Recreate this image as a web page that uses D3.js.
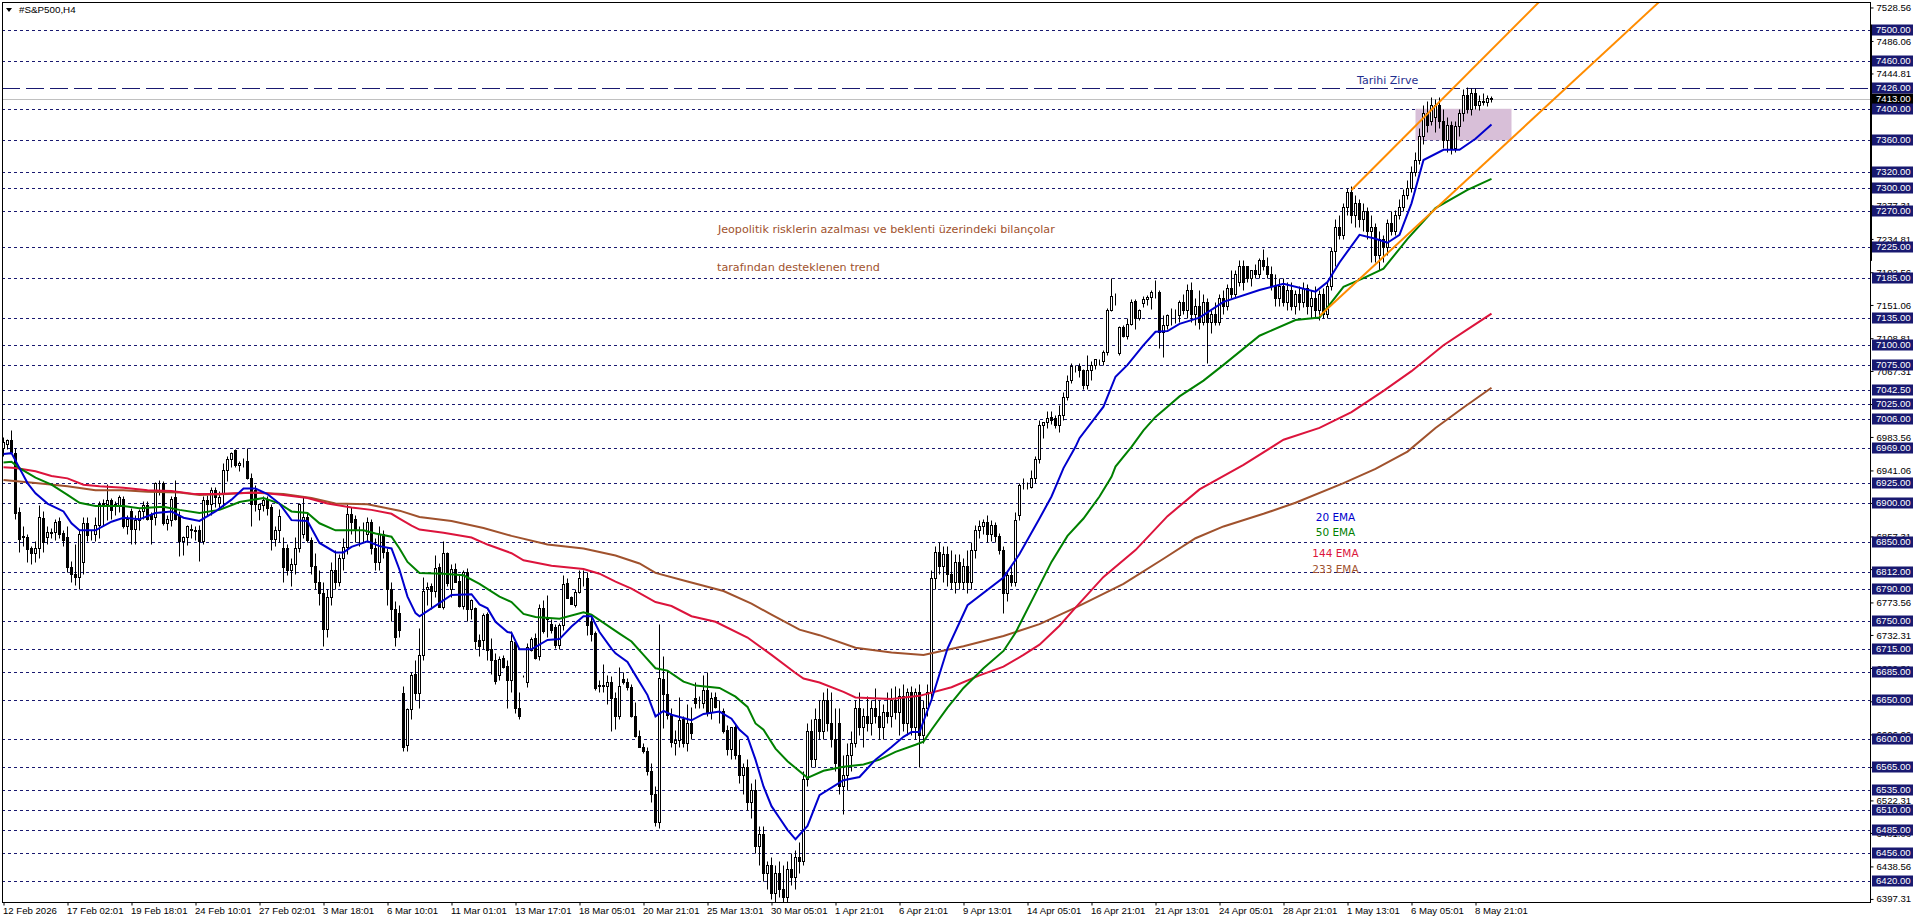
<!DOCTYPE html>
<html>
<head>
<meta charset="utf-8">
<title>#S&amp;P500,H4</title>
<script src="https://cdn.jsdelivr.net/npm/d3@7"></script>
<style>
  html, body { margin: 0; padding: 0; background: #fff; overflow: hidden; }
  svg { display: block; font-family: "Liberation Sans", sans-serif; }
</style>
</head>
<body>
<svg id="chart" width="1916" height="923"></svg>
<script>
const opens = [
6969,6975,6980,6963,6888,6857,6857,6842,6836,6843,
6881,6856,6862,6863,6877,6862,6857,6818,6810,6806,
6825,6874,6860,6860,6872,6899,6899,6903,6898,6897,
6905,6870,6889,6867,6878,6889,6897,6884,6882,6925,
6925,6874,6878,6907,6884,6851,6857,6866,6866,6866,
6851,6904,6899,6916,6900,6912,6942,6955,6967,6948,
6951,6953,6931,6916,6892,6897,6905,6895,6854,6866,
6842,6842,6815,6822,6843,6860,6882,6853,6820,6800,
6785,6740,6780,6815,6800,6830,6844,6886,6879,6865,
6866,6860,6876,6842,6825,6860,6838,6790,6765,6760,
6658,6592,6638,6683,6659,6707,6791,6795,6788,6819,
6768,6836,6791,6816,6801,6769,6812,6765,6766,6726,
6726,6759,6714,6701,6681,6703,6693,6675,6723,6640,
6680,6672,6713,6728,6705,6767,6752,6746,6742,6720,
6745,6798,6780,6770,6787,6804,6805,6749,6735,6668,
6668,6668,6673,6652,6630,6677,6673,6666,6629,6604,
6590,6585,6560,6530,6495,6676,6657,6631,6595,6599,
6626,6595,6621,6652,6648,6646,6663,6635,6653,6637,
6636,6612,6588,6616,6580,6555,6565,6520,6535,6465,
6480,6430,6440,6405,6430,6410,6400,6435,6425,6450,
6445,6550,6610,6575,6625,6610,6650,6620,6600,6620,
6540,6555,6580,6595,6640,6615,6630,6620,6640,6630,
6615,6635,6630,6650,6635,6655,6620,6660,6615,6660,
6605,6640,6660,6805,6838,6820,6835,6810,6800,6825,
6800,6820,6800,6840,6865,6870,6875,6860,6872,6858,
6840,6785,6808,6800,6884,6923,6923,6920,6932,6956,
6999,7002,7009,7007,6999,7011,7034,7056,7074,7074,
7068,7050,7069,7075,7081,7080,7091,7145,7163,7090,
7123,7112,7127,7156,7135,7153,7159,7161,7167,7167,
7117,7126,7138,7138,7138,7155,7145,7170,7140,7150,
7130,7155,7130,7140,7130,7160,7150,7172,7165,7180,
7200,7200,7185,7195,7190,7208,7200,7190,7175,7160,
7175,7155,7170,7150,7165,7155,7172,7150,7160,7145,
7165,7140,7175,7220,7250,7240,7275,7295,7265,7280,
7260,7270,7245,7250,7215,7235,7225,7255,7245,7265,
7275,7290,7300,7320,7335,7365,7395,7385,7390,7405,
7385,7360,7380,7350,7378,7395,7418,7400,7420,7405,
7410,7408,7414];
const highs = [
6984,6981,6992,6970,6895,6870,6860,6845,6852,6897,
6890,6870,6868,6880,6882,6866,6870,6826,6848,6865,
6882,6882,6865,6882,6902,6905,6924,6906,6902,6910,
6908,6885,6893,6885,6892,6902,6902,6888,6927,6929,
6928,6885,6908,6929,6890,6858,6872,6873,6870,6872,
6908,6910,6920,6920,6915,6950,6960,6965,6968,6953,
6957,6969,6938,6922,6900,6908,6909,6899,6870,6892,
6857,6848,6830,6857,6900,6909,6887,6857,6836,6815,
6800,6790,6825,6840,6835,6855,6899,6895,6885,6870,
6875,6882,6880,6855,6870,6865,6842,6800,6775,6770,
6668,6640,6685,6700,6741,6806,6800,6798,6834,6823,
6851,6838,6822,6823,6808,6815,6817,6778,6768,6733,
6760,6762,6728,6710,6705,6707,6700,6737,6726,6660,
6681,6722,6730,6735,6772,6777,6783,6752,6746,6748,
6808,6805,6782,6790,6815,6815,6812,6755,6737,6675,
6695,6681,6680,6660,6692,6685,6678,6670,6647,6612,
6595,6590,6570,6540,6746,6705,6688,6640,6612,6654,
6630,6645,6641,6672,6655,6682,6685,6660,6660,6650,
6640,6618,6616,6620,6600,6570,6575,6545,6550,6490,
6490,6445,6450,6440,6445,6440,6445,6455,6460,6470,
6560,6620,6625,6640,6650,6660,6665,6660,6640,6640,
6580,6595,6610,6650,6660,6640,6655,6650,6665,6650,
6645,6660,6665,6668,6665,6670,6665,6668,6665,6670,
6650,6670,6815,6845,6850,6845,6845,6840,6835,6835,
6830,6840,6850,6872,6878,6880,6885,6878,6876,6862,
6845,6812,6820,6888,6925,6931,6926,6941,6960,7005,
7003,7017,7016,7012,7024,7041,7062,7077,7075,7077,
7070,7087,7080,7082,7083,7094,7147,7185,7166,7124,
7125,7134,7158,7159,7146,7162,7164,7170,7183,7170,
7138,7140,7147,7146,7157,7165,7178,7180,7160,7170,
7165,7160,7145,7155,7165,7170,7178,7196,7196,7208,
7208,7192,7196,7203,7211,7222,7212,7200,7190,7185,
7185,7180,7180,7170,7175,7180,7178,7170,7175,7170,
7172,7180,7225,7260,7265,7280,7300,7302,7290,7285,
7280,7275,7265,7255,7245,7240,7260,7270,7272,7285,
7298,7310,7328,7345,7375,7405,7410,7415,7412,7415,
7400,7390,7385,7385,7400,7425,7428,7426,7426,7418,
7420,7418,7416];
const lows = [
6960,6968,6965,6880,6838,6845,6825,6822,6825,6830,
6838,6848,6855,6853,6855,6845,6812,6800,6796,6790,
6810,6852,6853,6852,6855,6870,6878,6880,6885,6888,
6868,6860,6848,6848,6865,6880,6878,6848,6872,6910,
6872,6865,6870,6878,6832,6834,6846,6855,6853,6826,
6848,6885,6885,6895,6893,6895,6928,6945,6945,6940,
6945,6930,6870,6890,6878,6890,6885,6840,6845,6850,
6800,6808,6795,6810,6838,6855,6850,6810,6790,6770,
6718,6730,6770,6790,6795,6815,6835,6860,6850,6845,
6850,6850,6835,6815,6815,6830,6770,6750,6718,6730,
6585,6585,6625,6650,6640,6700,6770,6765,6780,6768,
6765,6795,6780,6800,6768,6765,6750,6753,6715,6705,
6715,6700,6683,6670,6675,6690,6640,6660,6633,6626,
6679,6666,6712,6702,6700,6735,6730,6735,6716,6715,
6738,6780,6772,6768,6785,6795,6732,6725,6662,6660,
6660,6645,6611,6613,6625,6670,6662,6628,6603,6590,
6582,6555,6520,6490,6487,6614,6625,6590,6580,6590,
6590,6585,6600,6640,6640,6640,6630,6625,6640,6620,
6608,6580,6575,6575,6545,6530,6510,6500,6455,6440,
6420,6410,6397,6393,6400,6393,6393,6415,6410,6430,
6440,6540,6565,6565,6600,6600,6610,6590,6560,6530,
6505,6535,6560,6590,6605,6590,6610,6605,6620,6600,
6600,6620,6615,6625,6605,6610,6605,6605,6600,6565,
6595,6630,6650,6790,6810,6800,6795,6790,6785,6790,
6790,6785,6790,6830,6855,6860,6850,6852,6850,6835,
6760,6775,6795,6795,6878,6918,6918,6919,6925,6950,
6982,6995,7000,6995,6990,7005,7030,7052,7066,7060,
7045,7045,7056,7070,7075,7075,7087,7144,7151,7088,
7110,7108,7125,7120,7132,7148,7151,7146,7160,7096,
7085,7120,7125,7128,7130,7140,7135,7130,7125,7120,
7125,7078,7115,7125,7125,7140,7145,7160,7160,7175,
7170,7180,7175,7185,7185,7195,7185,7170,7150,7150,
7150,7145,7145,7140,7145,7148,7140,7135,7135,7132,
7135,7135,7170,7200,7235,7235,7265,7255,7250,7250,
7245,7235,7205,7205,7195,7205,7215,7240,7240,7260,
7270,7285,7295,7315,7330,7355,7370,7380,7370,7375,
7350,7345,7342,7345,7365,7385,7395,7392,7400,7398,
7405,7403,7408];
const closes = [
6977,6980,6965,6887,6854,6858,6841,6836,6843,6882,
6850,6863,6863,6876,6860,6853,6818,6810,6806,6861,
6874,6859,6860,6872,6899,6900,6903,6891,6897,6907,
6870,6880,6867,6878,6889,6897,6880,6880,6925,6925,
6874,6880,6905,6879,6851,6857,6870,6867,6864,6851,
6904,6899,6916,6907,6907,6942,6955,6963,6948,6951,
6950,6931,6899,6899,6899,6903,6894,6854,6866,6883,
6818,6815,6822,6843,6899,6882,6853,6820,6800,6785,
6740,6780,6815,6800,6830,6844,6886,6876,6865,6866,
6866,6875,6842,6825,6860,6838,6790,6765,6730,6738,
6590,6638,6681,6659,6707,6788,6793,6788,6817,6768,
6836,6798,6816,6800,6769,6812,6765,6777,6724,6718,
6758,6713,6701,6674,6702,6692,6675,6724,6640,6629,
6680,6717,6727,6703,6766,6737,6754,6739,6720,6745,
6797,6779,6772,6787,6804,6805,6745,6734,6665,6669,
6669,6673,6652,6630,6667,6673,6666,6629,6604,6590,
6585,6560,6530,6495,6678,6657,6631,6597,6599,6624,
6595,6620,6608,6646,6648,6663,6633,6652,6641,6637,
6610,6588,6615,6580,6555,6565,6520,6535,6465,6480,
6430,6440,6405,6430,6410,6400,6435,6425,6450,6445,
6550,6610,6575,6625,6610,6650,6620,6600,6570,6540,
6555,6580,6595,6640,6615,6630,6620,6640,6630,6615,
6635,6630,6650,6635,6655,6620,6660,6615,6660,6605,
6640,6660,6805,6838,6820,6835,6810,6800,6825,6800,
6820,6800,6840,6865,6870,6875,6860,6872,6858,6840,
6785,6808,6800,6878,6923,6923,6923,6932,6956,6999,
7002,7008,7005,6999,7012,7034,7054,7074,7073,7068,
7050,7069,7075,7082,7081,7091,7145,7163,7163,7123,
7112,7127,7155,7135,7145,7159,7161,7168,7167,7117,
7125,7138,7138,7138,7155,7145,7170,7140,7150,7130,
7155,7130,7140,7130,7160,7150,7172,7165,7190,7200,
7180,7185,7195,7190,7208,7200,7190,7175,7160,7175,
7155,7170,7150,7165,7155,7172,7150,7160,7145,7165,
7140,7175,7220,7250,7240,7275,7295,7265,7280,7260,
7270,7245,7250,7215,7235,7225,7255,7245,7265,7275,
7290,7300,7320,7335,7365,7395,7380,7405,7405,7385,
7360,7380,7350,7378,7395,7418,7400,7420,7405,7410,
7408,7414,7413];

const ema20Bars = [0,2,4,6,8,11,15,17,19,23,27,30,34,38,42,45,49,53,57,60,63,66,69,72,76,79,83,85,87,91,94,97,99,101,103,104,107,112,117,119,121,123,126,127,129,132,136,139,142,145,147,149,152,153,156,158,161,163,165,167,172,175,179,182,184,186,188,190,192,194,196,198,201,204,210,214,218,222,225,227,229,232,236,241,250,254,259,262,263,265,268,269,275,278,281,285,288,291,294,299,305,314,320,328,331,334,339,343,346,349,352,355,360,364,368,372];
const ema20Vals = [6962,6963,6944,6925,6912,6899,6889,6874,6865,6865,6876,6881,6879,6887,6889,6881,6877,6889,6904,6918,6918,6911,6899,6878,6877,6849,6837,6837,6844,6851,6845,6842,6815,6781,6760,6756,6766,6783,6784,6771,6766,6749,6736,6735,6714,6714,6726,6727,6743,6756,6756,6736,6715,6709,6698,6681,6656,6629,6636,6631,6624,6632,6635,6626,6612,6603,6574,6540,6515,6500,6485,6473,6490,6529,6548,6552,6574,6590,6603,6609,6609,6650,6715,6770,6805,6835,6880,6908,6920,6944,6971,6982,7022,7060,7075,7100,7117,7118,7127,7135,7155,7170,7178,7168,7180,7205,7240,7235,7230,7240,7280,7335,7348,7348,7362,7380];
const ema50Bars = [0,2,4,8,12,16,19,23,30,34,40,44,49,54,59,65,69,72,76,79,83,90,93,97,99,101,104,110,115,119,124,127,130,133,139,145,147,154,157,160,163,166,170,173,179,183,186,188,190,193,196,201,205,210,215,219,223,228,230,232,236,240,245,250,253,258,262,266,270,274,277,278,282,285,288,291,294,300,305,314,323,329,335,340,345,351,358,366,372];
const ema50Vals = [6951,6952,6944,6932,6923,6910,6900,6896,6896,6893,6895,6891,6887,6891,6901,6906,6899,6889,6887,6874,6865,6865,6861,6857,6842,6825,6811,6810,6808,6797,6781,6774,6759,6755,6753,6761,6758,6734,6724,6707,6690,6687,6673,6668,6665,6654,6641,6620,6612,6588,6572,6551,6560,6565,6568,6574,6584,6593,6597,6612,6640,6665,6690,6712,6735,6785,6825,6858,6880,6908,6933,6946,6971,6992,7009,7022,7035,7055,7075,7112,7132,7135,7174,7185,7197,7235,7274,7297,7311];
const ema144Bars = [0,3,8,12,16,20,24,30,36,42,48,53,58,64,70,76,81,87,92,97,99,102,104,110,117,121,127,130,137,145,149,153,157,163,167,172,178,186,192,198,200,204,210,213,222,229,237,244,250,255,259,264,268,275,283,291,299,310,320,329,337,345,352,360,366,372];
const ema144Vals = [6945,6944,6940,6934,6931,6923,6921,6919,6916,6915,6911,6911,6912,6913,6910,6906,6899,6894,6891,6886,6880,6871,6866,6862,6856,6847,6836,6827,6820,6816,6810,6800,6791,6774,6769,6756,6749,6729,6707,6684,6677,6672,6660,6653,6651,6655,6666,6681,6692,6707,6720,6744,6767,6806,6840,6883,6917,6948,6980,6995,7015,7042,7067,7100,7120,7140];
const ema233Bars = [0,8,16,23,30,36,44,49,56,62,70,77,83,91,99,104,112,120,127,136,145,153,159,163,171,180,187,192,199,204,213,222,230,240,250,259,268,280,290,298,305,315,323,335,343,351,358,365,372];
const ema233Vals = [6929,6925,6921,6916,6916,6914,6913,6910,6911,6913,6911,6906,6899,6898,6890,6882,6877,6868,6858,6847,6842,6833,6823,6811,6800,6788,6772,6758,6739,6732,6716,6710,6707,6718,6731,6746,6767,6797,6829,6855,6870,6886,6900,6925,6943,6965,6995,7021,7046];

// Horizontal levels
const levelPrices = [7500,7460,7400,7360,7320,7300,7270,7225,7185,7135,7100,7075,7042.5,7025,7006,6969,6925,6900,6850,6812,6790,6750,6715,6685,6650,6600,6565,6535,6510,6485,6456,6420];
const peakLevel = 7426;
const lastPrice = 7413;

// Orange channel, [bar, price] ends
const channelUpper = [[337,7297],[384,7536]];
const channelLower = [[329,7137],[414,7536]];
const zoneBars = [353,377];
const zonePrices = [7400,7360];

const priceTicks = [7528.56,7486.06,7444.81,7402.56,7361.06,7319.56,7277.31,7234.81,7192.56,7151.06,7108.81,7067.31,7025.31,6983.56,6941.06,6899.81,6857.31,6815.81,6773.56,6732.31,6690.31,6648.06,6606.06,6564.56,6522.31,6481.06,6438.56,6397.31];
const timeLabels = ["12 Feb 2026","17 Feb 02:01","19 Feb 18:01","24 Feb 10:01","27 Feb 02:01","3 Mar 18:01","6 Mar 10:01","11 Mar 01:01","13 Mar 17:01","18 Mar 05:01","20 Mar 21:01","25 Mar 13:01","30 Mar 05:01","1 Apr 21:01","6 Apr 21:01","9 Apr 13:01","14 Apr 05:01","16 Apr 21:01","21 Apr 13:01","24 Apr 05:01","28 Apr 21:01","1 May 13:01","6 May 05:01","8 May 21:01"];
const legendLabels = ["20 EMA","50 EMA","144 EMA","233 EMA"];
const legendPrices = [6881,6862,6836.5,6816];
const emaColors = ["#0000cd","#008000","#dc143c","#a0522d"];

const plotLeft = 2, plotRight = 1870, plotTop = 2, plotBottom = 902;
const navy = "#191970";

const svg = d3.select("#chart");

const x = d3.scaleLinear().domain([0, 467]).range([3.5, 1871.5]);
const y = d3.scaleLinear().domain([7535.5, 6393.4]).range([plotTop, plotBottom]);
const snap = (v) => Math.round(v) + 0.5;

svg.append("defs").append("clipPath").attr("id", "plot")
  .append("rect")
  .attr("x", plotLeft).attr("y", plotTop)
  .attr("width", plotRight - plotLeft).attr("height", plotBottom - plotTop);

// AXES
const yAxis = svg.append("g")
  .attr("transform", `translate(${plotRight + 0.5},0)`)
  .call(d3.axisRight(y).tickValues(priceTicks).tickFormat(d3.format(".2f")).tickSize(3).tickPadding(3));
const xAxis = svg.append("g")
  .attr("transform", `translate(0,${plotBottom + 0.5})`)
  .call(d3.axisBottom(x)
    .tickValues(timeLabels.map((d, i) => i * 16))
    .tickFormat((d) => timeLabels[d / 16])
    .tickSize(3).tickPadding(2));
xAxis.select(".domain").remove();
yAxis.select(".domain").remove();
xAxis.selectAll("text").attr("text-anchor", "start").attr("dx", -1);
svg.selectAll(".tick text").attr("font-size", 9.6).attr("font-family", "Liberation Sans").attr("fill", "#000");

const plot = svg.append("g").attr("clip-path", "url(#plot)");

// LEVELS
plot.selectAll(".level")
  .data(levelPrices)
  .join("line")
  .attr("x1", plotLeft).attr("x2", plotRight)
  .attr("y1", (d) => snap(y(d))).attr("y2", (d) => snap(y(d)))
  .attr("stroke", navy)
  .attr("stroke-dasharray", "3,3");

plot.append("line")
  .attr("x1", plotLeft).attr("x2", plotRight)
  .attr("y1", snap(y(peakLevel))).attr("y2", snap(y(peakLevel)))
  .attr("stroke", navy)
  .attr("stroke-dasharray", "18,6");

plot.append("line")
  .attr("x1", plotLeft).attr("x2", plotRight)
  .attr("y1", snap(y(lastPrice))).attr("y2", snap(y(lastPrice)))
  .attr("stroke", "#c0c0c0");

// ZONE
plot.append("rect")
  .attr("x", x(zoneBars[0])).attr("width", x(zoneBars[1]) - x(zoneBars[0]))
  .attr("y", y(zonePrices[0])).attr("height", y(zonePrices[1]) - y(zonePrices[0]))
  .attr("fill", "#d8bfd8");

// CANDLES
const candles = plot.selectAll(".candle")
  .data(closes.map((c, i) => i))
  .join("g");

candles.append("line")
  .attr("x1", (i) => x(i)).attr("x2", (i) => x(i))
  .attr("y1", (i) => snap(y(highs[i]))).attr("y2", (i) => snap(y(lows[i])))
  .attr("stroke", "#000");

candles.append("rect")
  .attr("x", (i) => x(i) - 1)
  .attr("width", 2)
  .attr("y", (i) => snap(y(Math.max(opens[i], closes[i]))))
  .attr("height", (i) => Math.max(0, snap(y(Math.min(opens[i], closes[i]))) - snap(y(Math.max(opens[i], closes[i])))))
  .attr("fill", (i) => (closes[i] >= opens[i] ? "#fff" : "#000"))
  .attr("stroke", "#000");

// EMA LINES
const emaLine = d3.line().x((d) => x(d[0])).y((d) => y(d[1]));
[[ema233Bars, ema233Vals, 3], [ema144Bars, ema144Vals, 2], [ema50Bars, ema50Vals, 1], [ema20Bars, ema20Vals, 0]]
  .forEach(([bars, vals, c]) => {
    plot.append("path")
      .attr("d", emaLine(bars.map((b, i) => [b, vals[i]])))
      .attr("fill", "none")
      .attr("stroke", emaColors[c])
      .attr("stroke-width", 2);
  });

// CHANNEL
[channelUpper, channelLower].forEach((pts) => {
  plot.append("path")
    .attr("d", emaLine(pts))
    .attr("fill", "none")
    .attr("stroke", "#ff8c00")
    .attr("stroke-width", 2);
});

// NOTES
const noteFont = "DejaVu Sans";
const noteColor = "#a0522d";
plot.append("text").text("Tarihi Zirve")
  .attr("x", x(338.4)).attr("y", y(7436.5)).attr("dy", "0.35em")
  .attr("font-family", noteFont).attr("font-size", 11).attr("fill", "#1f2f8f");
plot.append("text").text("Jeopolitik risklerin azalması ve beklenti üzerindeki bilançolar")
  .attr("x", x(178.6)).attr("y", y(7247.5)).attr("dy", "0.35em")
  .attr("font-family", noteFont).attr("font-size", 11.15).attr("fill", noteColor);
plot.append("text").text("tarafından desteklenen trend")
  .attr("x", x(178.4)).attr("y", y(7199)).attr("dy", "0.35em")
  .attr("font-family", noteFont).attr("font-size", 11.15).attr("fill", noteColor);

plot.selectAll(".legend")
  .data(legendLabels)
  .join("text")
  .text((d) => d)
  .attr("x", x(333))
  .attr("y", (d, i) => y(legendPrices[i]))
  .attr("dy", "0.35em")
  .attr("text-anchor", "middle")
  .attr("font-family", noteFont).attr("font-size", 10.5)
  .attr("fill", (d, i) => emaColors[i]);

// FRAME
svg.append("rect")
  .attr("x", plotLeft + 0.5).attr("y", plotTop + 0.5)
  .attr("width", plotRight - plotLeft).attr("height", plotBottom - plotTop)
  .attr("fill", "none").attr("stroke", "#000");
svg.append("rect")
  .attr("x", plotRight).attr("width", 2)
  .attr("y", y(7507)).attr("height", y(7207) - y(7507))
  .attr("fill", "#000");

// PRICE TAGS
const tag = (price, fill) => {
  const g = svg.append("g").attr("transform", `translate(${plotRight + 2},${Math.round(y(price))})`);
  g.append("rect").attr("x", 0).attr("y", -5.5).attr("width", 41).attr("height", 11).attr("fill", fill);
  g.append("text").text(d3.format(".2f")(price))
    .attr("x", 4).attr("dy", "0.35em")
    .attr("font-size", 9.6).attr("fill", "#fff");
};
tag(lastPrice, "#000");
levelPrices.concat(peakLevel).forEach((p) => tag(p, navy));

// TITLE
svg.append("path").attr("d", "M6,8 L12,8 L9,12 Z").attr("fill", "#000");
svg.append("text").text("#S&P500,H4")
  .attr("x", 19).attr("y", 10).attr("dy", "0.35em")
  .attr("font-size", 9.8).attr("fill", "#000");
</script>
</body>
</html>
